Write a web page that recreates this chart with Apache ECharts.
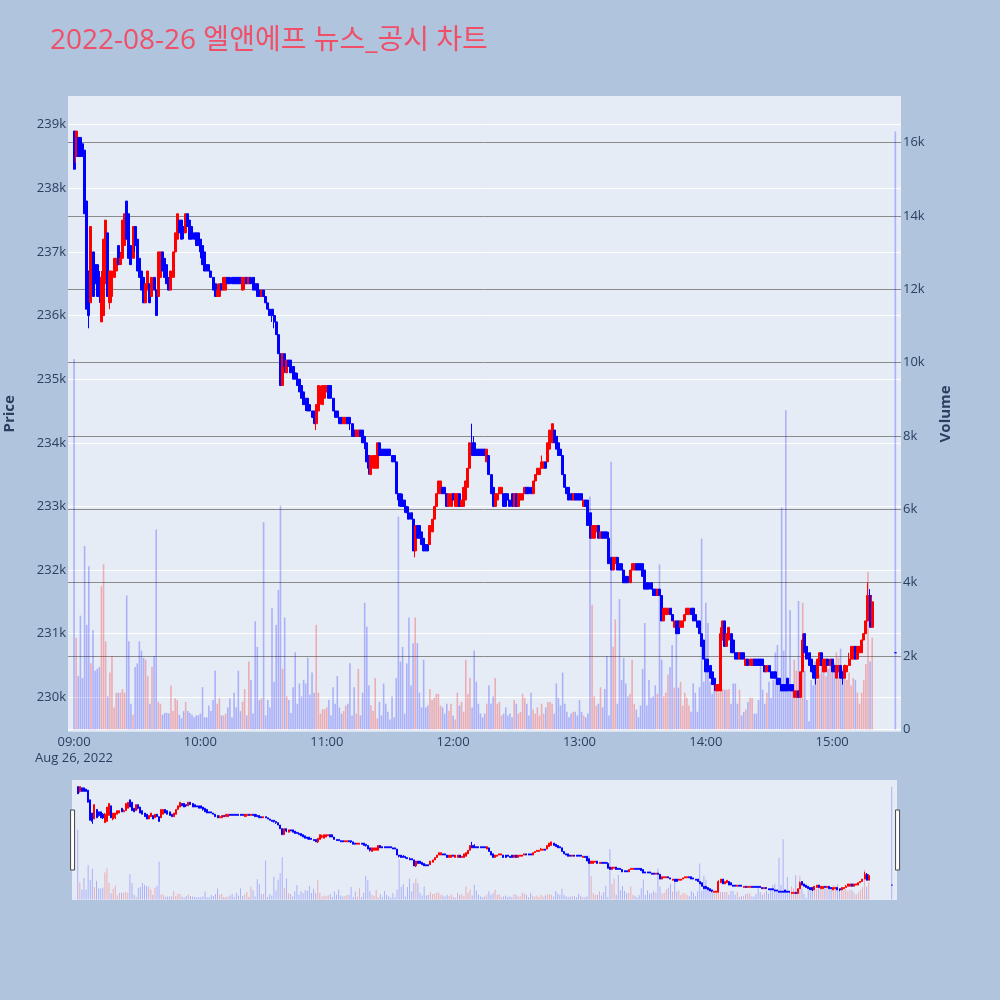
<!DOCTYPE html>
<html>
<head>
<meta charset="utf-8">
<script src="https://cdn.jsdelivr.net/npm/echarts@6/dist/echarts.min.js"></script>
<style>html,body{margin:0;padding:0;background:#B0C4DE}#c{width:1000px;height:1000px}</style>
</head>
<body>
<div id="c"></div>
<script>
// ---- data (prices in units of 100 KRW, volumes in thousand shares) ----
const chartTitle = '2022-08-26 엘앤에프 뉴스_공시 차트';
const sessionStart = [9, 0];      // first 1-minute candle
const closingAuction = [15, 30];  // last (auction) candle
const opens = [
2389,2385,2388,2388,2387,2386,2378,2367,2362,2370,
2368,2368,2366,2359,2360,2365,2373,2362,2363,2366,
2367,2371,2368,2369,2371,2378,2376,2371,2369,2374,
2372,2369,2367,2366,2362,2364,2365,2363,2366,2364,
2363,2366,2370,2369,2368,2366,2364,2366,2370,2372,
2375,2375,2374,2373,2376,2375,2374,2373,2373,2373,
2372,2371,2370,2368,2368,2367,2366,2365,2363,2363,
2365,2364,2364,2366,2366,2366,2366,2366,2366,2366,
2364,2365,2366,2365,2366,2366,2365,2365,2364,2363,
2364,2363,2362,2361,2361,2360,2359,2357,2354,2349,
2354,2351,2353,2353,2352,2351,2350,2350,2349,2348,
2347,2347,2346,2345,2345,2343,2345,2347,2346,2347,
2348,2349,2349,2347,2345,2345,2344,2344,2343,2343,
2344,2344,2343,2342,2341,2341,2342,2342,2341,2340,
2338,2335,2336,2336,2336,2340,2339,2339,2339,2339,
2339,2338,2338,2337,2332,2332,2331,2331,2330,2329,
2329,2328,2323,2327,2327,2326,2325,2324,2324,2324,
2326,2328,2330,2332,2332,2333,2333,2332,2330,2330,
2332,2330,2330,2332,2330,2330,2331,2333,2336,2340,
2340,2339,2339,2339,2339,2339,2337,2338,2335,2333,
2330,2331,2332,2332,2332,2332,2332,2331,2332,2330,
2332,2330,2331,2331,2332,2333,2333,2333,2332,2334,
2335,2335,2336,2336,2337,2337,2339,2340,2342,2341,
2340,2339,2338,2335,2333,2333,2332,2331,2332,2332,
2332,2332,2330,2331,2331,2329,2325,2325,2326,2327,
2325,2326,2326,2326,2325,2322,2320,2321,2322,2321,
2321,2320,2319,2319,2318,2320,2320,2321,2321,2321,
2321,2320,2318,2318,2318,2317,2317,2316,2317,2316,
2312,2313,2313,2314,2313,2311,2312,2312,2311,2311,
2312,2313,2313,2314,2314,2313,2312,2312,2310,2309,
2306,2306,2305,2304,2303,2301,2301,2301,2309,2312,
2308,2309,2310,2309,2307,2307,2306,2307,2307,2305,
2306,2305,2305,2306,2306,2306,2306,2306,2305,2304,
2305,2304,2304,2304,2303,2303,2302,2302,2302,2303,
2302,2302,2300,2300,2301,2300,2304,2310,2308,2307,
2306,2305,2305,2303,2305,2307,2304,2304,2306,2305,
2306,2305,2303,2304,2305,2304,2303,2304,2305,2306,
2306,2308,2306,2307,2307,2309,2310,2312,2316,2311,
2307];
const closes = [
2383,2389,2385,2385,2385,2376,2361,2360,2374,2363,
2365,2363,2363,2366,2372,2375,2363,2367,2367,2369,
2369,2368,2369,2375,2376,2372,2369,2368,2374,2371,
2367,2366,2364,2362,2365,2367,2362,2366,2364,2360,
2370,2370,2367,2366,2365,2364,2367,2370,2373,2376,
2373,2372,2373,2376,2374,2372,2372,2372,2371,2371,
2370,2368,2367,2367,2367,2366,2364,2363,2364,2365,
2364,2366,2366,2365,2365,2365,2365,2365,2365,2365,
2366,2366,2365,2366,2365,2364,2364,2363,2363,2364,
2363,2362,2361,2360,2360,2359,2357,2354,2349,2354,
2352,2353,2352,2351,2350,2350,2349,2348,2347,2346,
2346,2345,2345,2344,2343,2346,2349,2348,2349,2349,
2349,2347,2347,2345,2344,2344,2343,2343,2344,2344,
2343,2343,2341,2341,2342,2342,2341,2340,2340,2337,
2336,2338,2338,2338,2340,2338,2338,2338,2338,2338,
2338,2337,2337,2332,2331,2330,2330,2330,2329,2328,
2328,2323,2327,2325,2325,2324,2323,2323,2323,2327,
2328,2330,2332,2334,2334,2332,2332,2330,2332,2332,
2331,2332,2332,2330,2331,2333,2334,2336,2340,2338,
2338,2338,2338,2338,2338,2338,2339,2335,2332,2330,
2332,2332,2333,2333,2330,2330,2331,2330,2330,2332,
2330,2332,2332,2332,2333,2332,2332,2332,2334,2335,
2336,2336,2337,2337,2336,2340,2342,2343,2340,2339,
2338,2338,2335,2333,2332,2331,2331,2332,2331,2331,
2331,2331,2331,2330,2327,2325,2327,2327,2327,2325,
2326,2325,2325,2325,2321,2320,2322,2322,2320,2320,
2320,2318,2318,2318,2320,2321,2321,2320,2320,2320,
2319,2317,2317,2317,2317,2316,2316,2317,2316,2312,
2314,2314,2314,2313,2312,2312,2310,2310,2312,2312,
2313,2314,2314,2313,2312,2312,2311,2310,2308,2306,
2304,2304,2303,2302,2302,2302,2302,2310,2312,2308,
2310,2311,2307,2307,2306,2306,2307,2306,2306,2306,
2305,2306,2306,2305,2305,2305,2305,2305,2304,2305,
2304,2303,2303,2303,2302,2302,2301,2301,2301,2301,
2301,2301,2301,2301,2300,2304,2309,2307,2306,2305,
2304,2303,2303,2306,2307,2305,2306,2306,2305,2306,
2304,2304,2305,2305,2303,2303,2305,2305,2306,2308,
2308,2306,2308,2308,2309,2310,2312,2316,2311,2315,
2307];
const lows = [
2383,2384,2385,2385,2385,2376,2361,2358,2362,2363,
2364,2363,2362,2359,2360,2365,2363,2361,2362,2366,
2367,2368,2368,2369,2371,2372,2369,2368,2369,2370,
2367,2366,2364,2362,2362,2364,2362,2363,2364,2360,
2363,2366,2367,2366,2365,2364,2364,2366,2370,2372,
2373,2372,2372,2373,2374,2372,2372,2372,2371,2371,
2369,2368,2367,2367,2367,2366,2364,2363,2363,2363,
2364,2364,2364,2365,2365,2365,2365,2365,2365,2365,
2364,2364,2365,2365,2365,2364,2364,2363,2363,2363,
2363,2362,2361,2360,2359,2358,2357,2354,2349,2349,
2351,2351,2352,2351,2350,2350,2349,2348,2347,2346,
2345,2345,2345,2344,2343,2342,2345,2346,2346,2347,
2348,2347,2347,2345,2344,2344,2343,2343,2343,2343,
2343,2342,2341,2341,2341,2341,2341,2340,2339,2337,
2335,2335,2336,2336,2336,2338,2338,2338,2338,2338,
2338,2337,2337,2332,2330,2330,2330,2329,2329,2328,
2328,2323,2322,2325,2325,2324,2323,2323,2323,2324,
2326,2328,2330,2332,2332,2332,2332,2330,2330,2330,
2331,2330,2330,2330,2330,2330,2331,2333,2336,2338,
2338,2338,2338,2338,2338,2338,2337,2335,2332,2330,
2330,2331,2332,2332,2330,2330,2331,2330,2330,2330,
2330,2330,2331,2331,2332,2332,2332,2332,2332,2334,
2335,2335,2336,2336,2336,2337,2339,2340,2340,2339,
2338,2338,2335,2333,2332,2331,2331,2331,2331,2331,
2331,2331,2330,2330,2327,2325,2325,2325,2326,2325,
2325,2325,2325,2325,2321,2320,2320,2321,2320,2320,
2320,2318,2318,2318,2318,2320,2320,2320,2320,2320,
2319,2317,2317,2317,2317,2316,2316,2316,2316,2312,
2312,2313,2313,2313,2312,2311,2310,2310,2311,2311,
2312,2313,2313,2313,2312,2312,2311,2310,2308,2306,
2304,2304,2303,2302,2301,2301,2301,2301,2309,2308,
2308,2309,2307,2307,2306,2306,2306,2306,2306,2305,
2305,2305,2305,2305,2305,2305,2305,2305,2304,2304,
2304,2303,2303,2303,2302,2302,2301,2301,2301,2301,
2301,2301,2300,2300,2300,2300,2304,2307,2306,2305,
2304,2303,2302,2303,2305,2305,2304,2304,2305,2305,
2304,2304,2303,2304,2303,2302,2303,2304,2305,2306,
2306,2306,2306,2307,2307,2309,2310,2312,2311,2311,
2307];
const highs = [
2389,2389,2388,2388,2387,2386,2378,2367,2374,2370,
2368,2368,2367,2367,2372,2375,2373,2367,2367,2369,
2369,2371,2370,2375,2376,2378,2376,2371,2374,2374,
2372,2369,2367,2366,2365,2367,2365,2366,2366,2364,
2370,2370,2370,2369,2368,2366,2367,2370,2373,2376,
2375,2375,2374,2376,2376,2375,2374,2373,2373,2373,
2372,2371,2370,2368,2368,2367,2366,2365,2365,2365,
2365,2366,2366,2366,2366,2366,2366,2366,2366,2366,
2366,2366,2366,2366,2366,2366,2366,2365,2364,2364,
2364,2363,2362,2361,2361,2360,2359,2357,2354,2354,
2354,2353,2353,2353,2352,2351,2351,2350,2349,2348,
2347,2347,2346,2345,2345,2346,2349,2349,2349,2349,
2349,2349,2349,2347,2345,2345,2344,2344,2344,2344,
2344,2344,2343,2342,2342,2342,2342,2342,2341,2340,
2338,2338,2338,2338,2340,2340,2339,2339,2339,2339,
2339,2338,2338,2337,2332,2332,2332,2331,2330,2330,
2329,2328,2327,2327,2327,2326,2325,2324,2324,2327,
2328,2330,2332,2334,2334,2333,2333,2332,2332,2332,
2332,2332,2332,2332,2331,2333,2334,2336,2340,2343,
2341,2339,2339,2339,2339,2339,2339,2338,2335,2333,
2332,2332,2333,2333,2332,2332,2332,2331,2332,2332,
2332,2332,2332,2332,2333,2333,2333,2333,2334,2335,
2336,2336,2338,2337,2337,2340,2342,2343,2342,2341,
2340,2339,2338,2335,2333,2333,2332,2332,2332,2332,
2332,2332,2331,2331,2331,2329,2327,2327,2327,2327,
2326,2326,2326,2326,2326,2322,2322,2322,2322,2321,
2321,2320,2319,2319,2320,2321,2321,2321,2321,2321,
2321,2320,2318,2318,2318,2317,2317,2317,2317,2316,
2314,2314,2314,2314,2313,2312,2312,2312,2312,2312,
2313,2314,2314,2314,2314,2313,2312,2312,2310,2309,
2306,2306,2305,2304,2303,2302,2302,2311,2312,2312,
2310,2311,2310,2309,2307,2307,2307,2307,2307,2306,
2306,2306,2306,2306,2306,2306,2306,2306,2305,2305,
2305,2304,2304,2304,2303,2303,2302,2302,2302,2303,
2302,2302,2301,2301,2301,2304,2310,2310,2308,2307,
2306,2305,2305,2306,2307,2307,2306,2306,2306,2306,
2306,2305,2305,2305,2305,2304,2305,2305,2307,2308,
2308,2308,2308,2308,2309,2310,2312,2318,2317,2316,
2307];
const volumes = [
10.1,2.5,1.45,3.1,1.4,5.0,2.85,4.45,1.8,2.7,
1.6,1.65,1.7,3.9,4.5,2.4,0.9,1.55,2.0,0.6,
1.0,1.0,1.0,1.1,1.0,3.65,2.4,0.7,0.4,1.7,
1.8,2.4,2.15,1.95,1.9,1.45,0.7,1.7,2.0,5.45,
0.75,0.7,0.4,0.45,0.45,0.43,1.2,0.5,0.85,0.8,
0.4,0.3,0.5,0.75,0.5,0.45,0.4,0.33,0.38,0.38,
0.43,1.15,0.33,0.33,0.65,0.5,0.8,1.6,0.7,0.85,
0.38,0.38,0.43,0.6,0.85,0.33,1.0,0.6,1.6,0.5,
0.75,1.1,0.38,1.85,1.35,0.43,2.95,2.25,0.8,0.85,
5.65,0.38,0.8,0.6,3.3,1.3,2.85,3.8,6.1,1.65,
3.05,0.9,0.8,0.45,1.15,2.1,0.7,1.25,0.9,1.35,
1.25,1.95,0.95,1.55,1.0,2.85,1.0,0.43,0.55,0.55,
0.6,0.8,0.38,1.15,0.7,1.45,0.6,0.43,0.5,0.65,
0.7,1.8,0.38,1.15,0.43,1.65,0.38,1.0,3.45,2.8,
1.2,0.65,0.5,1.4,0.3,0.75,0.38,1.25,0.7,0.48,
0.27,0.9,0.33,1.4,5.8,1.85,2.25,0.43,1.8,3.05,
1.2,2.35,3.05,2.35,1.0,0.6,1.9,0.6,0.65,1.1,
0.8,0.86,0.97,0.97,0.65,0.6,0.43,0.7,0.5,0.7,
0.38,0.27,1.0,0.65,0.75,0.48,1.9,0.97,1.4,0.6,
2.15,1.3,0.7,0.43,0.33,0.43,0.7,1.2,0.7,0.9,
1.4,0.7,0.75,0.38,0.43,0.6,0.38,0.43,0.33,0.8,
0.7,0.43,0.48,0.97,0.86,0.7,0.38,1.0,0.54,0.43,
0.6,0.38,0.7,0.43,0.6,0.75,0.75,0.7,0.43,1.25,
0.86,0.65,1.55,0.7,0.48,0.33,0.43,0.48,0.48,0.38,
0.8,0.48,0.38,0.33,0.43,6.35,3.4,0.9,0.65,0.7,
1.15,0.6,1.1,2.0,0.38,7.3,2.25,3.0,0.7,3.55,
1.35,1.95,1.25,0.9,0.97,1.9,0.7,0.54,0.33,0.65,
1.65,2.9,0.65,1.35,0.86,0.9,1.2,0.97,4.5,1.9,
0.9,1.0,1.5,1.7,2.3,1.14,2.6,1.14,1.3,0.65,
1.0,0.86,0.65,0.48,1.25,1.0,0.48,1.15,5.2,1.3,
3.45,2.9,1.3,0.97,1.25,1.2,1.0,1.08,1.1,1.08,
1.08,1.1,0.7,1.25,1.25,0.7,1.08,0.38,0.48,0.54,
0.75,0.86,0.86,0.43,0.43,0.8,1.9,1.08,0.7,1.0,
1.3,0.86,1.35,2.1,2.3,1.3,6.05,2.15,8.7,1.3,
3.25,1.14,1.9,1.6,3.5,1.1,3.45,1.6,0.8,0.22,
1.35,1.2,1.85,1.35,1.5,2.0,1.85,1.45,1.65,1.8,
1.6,1.8,2.1,1.95,2.2,1.65,1.78,1.35,1.55,1.2,
1.4,1.35,1.0,0.7,1.0,1.35,1.78,4.3,1.85,2.5,
16.3];
const priceRange = [229459, 239451];
const volumeRange = [-63, 17270];
const timeRange = [[8, 57, 30], [15, 32, 18]];

// ---- build ----
const ts = (h, m, s) => new Date(2022, 7, 26, h, m, s || 0).getTime();
const last = opens.length - 1;
const times = opens.map((_, i) => i < last ? ts(sessionStart[0], sessionStart[1] + i) : ts(closingAuction[0], closingAuction[1]));
const candleData = times.map((t, i) => [t, opens[i] * 100, closes[i] * 100, lows[i] * 100, highs[i] * 100]);
const UP = '#ff0000', DOWN = '#0000ff';
const volData = times.map((t, i) => ({
  value: [t, Math.round(volumes[i] * 1000)],
  itemStyle: { color: closes[i] > opens[i] ? 'rgba(255,0,0,0.27)' : 'rgba(0,0,255,0.25)' }
}));

const FONT = '"Open Sans", "Noto Sans CJK KR", sans-serif';
const TXT = '#2a3f5f';
const pad = n => (n < 10 ? '0' : '') + n;
const kfmt = v => (v === 0 ? '0' : (v / 1000) + 'k');
const candleStyle = { color: UP, color0: DOWN, borderColor: UP, borderColor0: DOWN, borderColorDoji: DOWN, borderWidth: 1 };

const chart = echarts.init(document.getElementById('c'));
chart.setOption({
  animation: false,
  backgroundColor: '#B0C4DE',
  textStyle: { fontFamily: FONT },
  title: {
    text: chartTitle, left: 50, top: 27, padding: 0,
    textStyle: { color: '#EF5068', fontSize: 28, fontWeight: 'normal', fontFamily: FONT }
  },
  grid: [
    { left: 68, right: 99, top: 96, height: 635.7, show: true, backgroundColor: '#E5ECF6', borderWidth: 0, containLabel: false, outerBoundsMode: 'none' },
    { left: 72, right: 103, top: 780, height: 120, show: true, backgroundColor: '#E5ECF6', borderWidth: 0, containLabel: false, outerBoundsMode: 'none' }
  ],
  xAxis: [
    {
      type: 'time', gridIndex: 0,
      min: ts(...timeRange[0]), max: ts(...timeRange[1]),
      minInterval: 3600000, maxInterval: 3600000,
      axisLine: { show: false }, axisTick: { show: false }, splitLine: { show: false },
      axisLabel: {
        color: TXT, fontSize: 13, margin: 3, lineHeight: 16,
        showMinLabel: false, showMaxLabel: false,
        formatter: v => {
          const d = new Date(v);
          const s = pad(d.getHours()) + ':' + pad(d.getMinutes());
          return (d.getHours() === 9 && d.getMinutes() === 0) ? s + '\nAug 26, 2022' : s;
        }
      }
    },
    {
      type: 'time', gridIndex: 1,
      min: ts(...timeRange[0]), max: ts(...timeRange[1]),
      show: false, splitLine: { show: false }
    }
  ],
  yAxis: [
    {
      type: 'value', gridIndex: 0, position: 'left',
      min: priceRange[0], max: priceRange[1], splitNumber: 10,
      name: 'Price', nameLocation: 'middle', nameGap: 51, nameRotate: 90,
      nameTextStyle: { color: TXT, fontSize: 15, fontWeight: 'bold' },
      axisLine: { show: false }, axisTick: { show: false },
      axisLabel: { color: TXT, fontSize: 13, margin: 2, formatter: kfmt, showMinLabel: false, showMaxLabel: false },
      splitLine: { show: true, showMinLine: false, showMaxLine: false, lineStyle: { color: '#ffffff', width: 1 } }
    },
    {
      type: 'value', gridIndex: 0, position: 'right',
      min: volumeRange[0], max: volumeRange[1], splitNumber: 8,
      name: 'Volume', nameLocation: 'middle', nameGap: 37, nameRotate: 90,
      nameTextStyle: { color: TXT, fontSize: 15, fontWeight: 'bold' },
      axisLine: { show: false }, axisTick: { show: false },
      axisLabel: { color: TXT, fontSize: 13, margin: 2, formatter: kfmt, showMinLabel: false, showMaxLabel: false },
      splitLine: { show: true, showMinLine: false, showMaxLine: false,
        lineStyle: { color: ['#ffffff', '#8a8a8a', '#8a8a8a', '#8a8a8a', '#8a8a8a', '#8a8a8a', '#8a8a8a', '#8a8a8a', '#8a8a8a'], width: 1 } }
    },
    { type: 'value', gridIndex: 1, min: priceRange[0], max: priceRange[1], show: false, splitLine: { show: false } },
    { type: 'value', gridIndex: 1, min: volumeRange[0], max: volumeRange[1], show: false, splitLine: { show: false } }
  ],
  dataZoom: [{
    type: 'slider', xAxisIndex: 0, filterMode: 'none', start: 0, end: 100,
    left: 71, right: 102, top: 780, height: 120,
    backgroundColor: 'rgba(0,0,0,0)', fillerColor: 'rgba(0,0,0,0)', borderColor: 'rgba(0,0,0,0)',
    showDataShadow: false, showDetail: false, brushSelect: false, moveHandleSize: 0,
    handleIcon: 'path://M0,0H4V60H0Z', handleSize: '50%',
    handleStyle: { color: '#ffffff', borderColor: '#444444', borderWidth: 1 },
    emphasis: { handleStyle: { color: '#ffffff', borderColor: '#444444' } }
  }],
  series: [
    { type: 'bar', name: 'Volume', xAxisIndex: 0, yAxisIndex: 1, barWidth: 1.6, data: volData },
    { type: 'candlestick', name: 'Price', xAxisIndex: 0, yAxisIndex: 0, barWidth: 2.5,
      encode: { x: 0, y: [1, 2, 3, 4] }, itemStyle: candleStyle, data: candleData },
    { type: 'bar', xAxisIndex: 1, yAxisIndex: 3, barWidth: 1, data: volData },
    { type: 'candlestick', xAxisIndex: 1, yAxisIndex: 2, barWidth: 1.5,
      encode: { x: 0, y: [1, 2, 3, 4] }, itemStyle: candleStyle, data: candleData }
  ]
});
</script>
</body>
</html>
